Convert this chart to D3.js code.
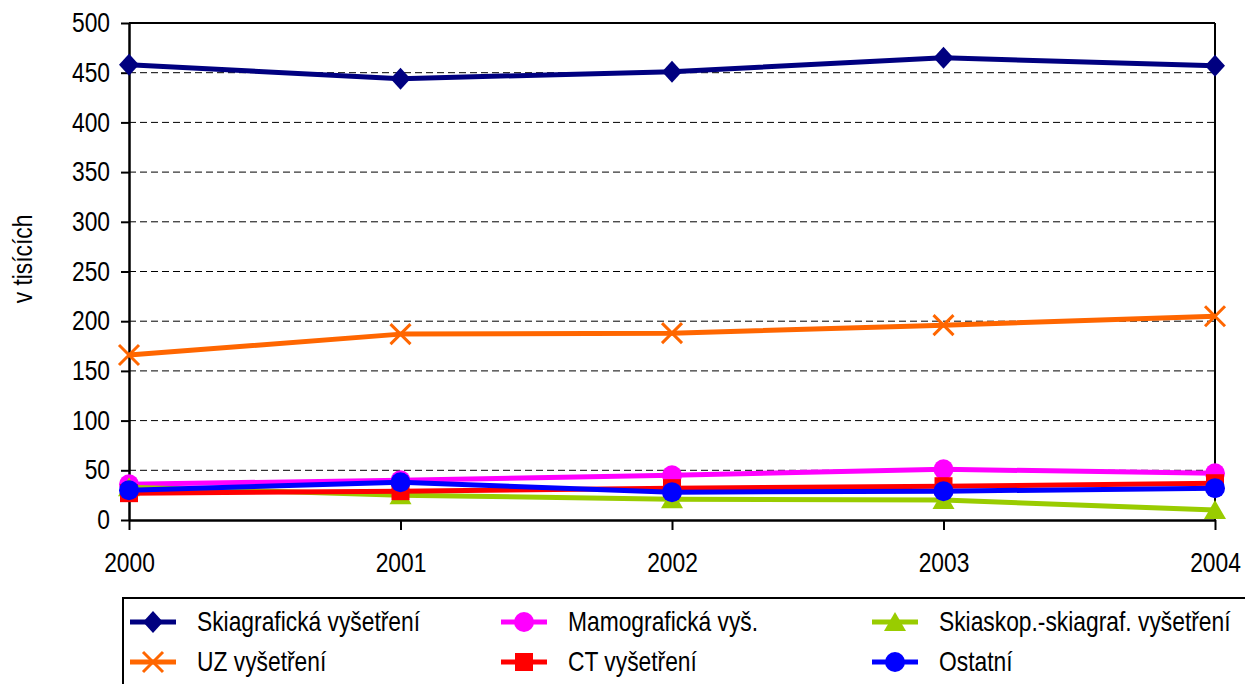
<!DOCTYPE html>
<html>
<head>
<meta charset="utf-8">
<script src="https://cdn.jsdelivr.net/npm/d3@7"></script>
<style>
  body { margin: 0; background: #fff; }
  svg text { font-family: "Liberation Sans", Arial, sans-serif; fill: #000; }
</style>
</head>
<body>
<svg id="chart" width="1245" height="684"></svg>
<script>
const years = [2000, 2001, 2002, 2003, 2004];
const yTicks = [0, 50, 100, 150, 200, 250, 300, 350, 400, 450, 500];

const skiagraf = [458, 444, 451, 465, 457];
const mamograf = [36, 40, 45, 51, 47];
const skiaskop = [33, 25, 21, 20, 10];
const uz = [166, 187, 188, 196, 205];
const ct = [27, 29, 32, 34, 37];
const ostatni = [30, 38, 28, 29, 32];

const seriesNames = ['Skiagrafická vyšetření', 'Mamografická vyš.', 'Skiaskop.-skiagraf. vyšetření',
  'UZ vyšetření', 'CT vyšetření', 'Ostatní'];

// drawing order: last drawn ends on top
const series = [
  { name: seriesNames[0], values: skiagraf, color: '#000080', symbol: 'diamond' },
  { name: seriesNames[3], values: uz, color: '#FF6600', symbol: 'x' },
  { name: seriesNames[1], values: mamograf, color: '#FF00FF', symbol: 'circle' },
  { name: seriesNames[2], values: skiaskop, color: '#99CC00', symbol: 'triangle' },
  { name: seriesNames[4], values: ct, color: '#FF0000', symbol: 'square' },
  { name: seriesNames[5], values: ostatni, color: '#0000FF', symbol: 'circle' }
];

const svg = d3.select('#chart');
const m = { left: 129, right: 1215, top: 23, bottom: 520 };
const FS = 27, SX = 0.845;   // narrow font look: squeeze text horizontally

const x = d3.scalePoint().domain(years).range([m.left, m.right]);
const y = d3.scaleLinear().domain([0, 500]).range([m.bottom, m.top]);

// dashed grid
svg.append('g').selectAll('line')
  .data(yTicks.filter(t => t > 0 && t < 500))
  .enter().append('line')
  .attr('x1', m.left).attr('x2', m.right)
  .attr('y1', d => y(d)).attr('y2', d => y(d))
  .attr('stroke', '#000').attr('stroke-width', 1).attr('stroke-dasharray', '7 4');

// frame top/right
svg.append('line').attr('x1', m.left).attr('x2', m.right).attr('y1', m.top).attr('y2', m.top)
  .attr('stroke', '#000').attr('stroke-width', 2);
svg.append('line').attr('x1', m.right).attr('x2', m.right).attr('y1', m.top).attr('y2', m.bottom)
  .attr('stroke', '#000').attr('stroke-width', 2);

const yAxis = svg.append('g').attr('transform', `translate(${m.left},0)`)
  .call(d3.axisLeft(y).tickValues(yTicks).tickSize(8).tickSizeOuter(0));
const xAxis = svg.append('g').attr('transform', `translate(0,${m.bottom})`)
  .call(d3.axisBottom(x).tickSize(10).tickPadding(23).tickSizeOuter(0).tickFormat(d3.format('d')));
[yAxis, xAxis].forEach(a => {
  a.select('.domain').attr('stroke', '#000').attr('stroke-width', 2.5);
  a.selectAll('.tick line').attr('stroke', '#000').attr('stroke-width', 2);
  a.selectAll('text').attr('font-size', FS).attr('font-family', null).attr('fill', '#000');
});
yAxis.selectAll('text').attr('x', -19 / SX).attr('transform', `scale(${SX},1)`);
xAxis.selectAll('text').attr('transform', `scale(${SX},1)`);

svg.append('text')
  .attr('transform', `translate(32,259) rotate(-90) scale(${SX},1)`)
  .attr('text-anchor', 'middle').attr('font-size', FS).text('v tisících');

function drawSymbol(sel, sym, color, cx, cy) {
  if (sym === 'diamond') {
    sel.append('path').attr('d', `M${cx},${cy - 11}L${cx + 10},${cy}L${cx},${cy + 11}L${cx - 10},${cy}Z`).attr('fill', color);
  } else if (sym === 'circle') {
    sel.append('circle').attr('cx', cx).attr('cy', cy).attr('r', 10).attr('fill', color);
  } else if (sym === 'square') {
    sel.append('rect').attr('x', cx - 9).attr('y', cy - 9).attr('width', 18).attr('height', 18).attr('fill', color);
  } else if (sym === 'triangle') {
    sel.append('path').attr('d', `M${cx},${cy - 10}L${cx + 11},${cy + 9}L${cx - 11},${cy + 9}Z`).attr('fill', color);
  } else if (sym === 'x') {
    sel.append('path').attr('d', `M${cx - 10},${cy - 10}L${cx + 10},${cy + 10}M${cx + 10},${cy - 10}L${cx - 10},${cy + 10}`)
      .attr('stroke', color).attr('stroke-width', 3);
  }
}

const line = d3.line().x((d, i) => x(years[i])).y(d => y(d));
series.forEach(s => {
  const g = svg.append('g');
  g.append('path').datum(s.values).attr('d', line)
    .attr('fill', 'none').attr('stroke', s.color).attr('stroke-width', 5).attr('stroke-linejoin', 'round');
  s.values.forEach((v, i) => drawSymbol(g, s.symbol, s.color, x(years[i]), y(v)));
});

// legend
const legend = svg.append('g');
legend.append('rect').attr('x', 123).attr('y', 598).attr('width', 1140).attr('height', 100)
  .attr('fill', '#fff').attr('stroke', '#000').attr('stroke-width', 2);
const legendOrder = [0, 2, 3, 1, 4, 5];
const colX = [130, 501, 872];
const rowY = [622, 662];
legendOrder.forEach((si, k) => {
  const s = series[si];
  const lx = colX[k % 3], ly = rowY[Math.floor(k / 3)];
  const lg = legend.append('g');
  lg.append('line').attr('x1', lx).attr('x2', lx + 46).attr('y1', ly).attr('y2', ly)
    .attr('stroke', s.color).attr('stroke-width', 5);
  drawSymbol(lg, s.symbol, s.color, lx + 23, ly);
  lg.append('text').attr('transform', `translate(${lx + 67},${ly + 9}) scale(${SX},1)`)
    .attr('font-size', FS).text(s.name);
});
</script>
</body>
</html>
